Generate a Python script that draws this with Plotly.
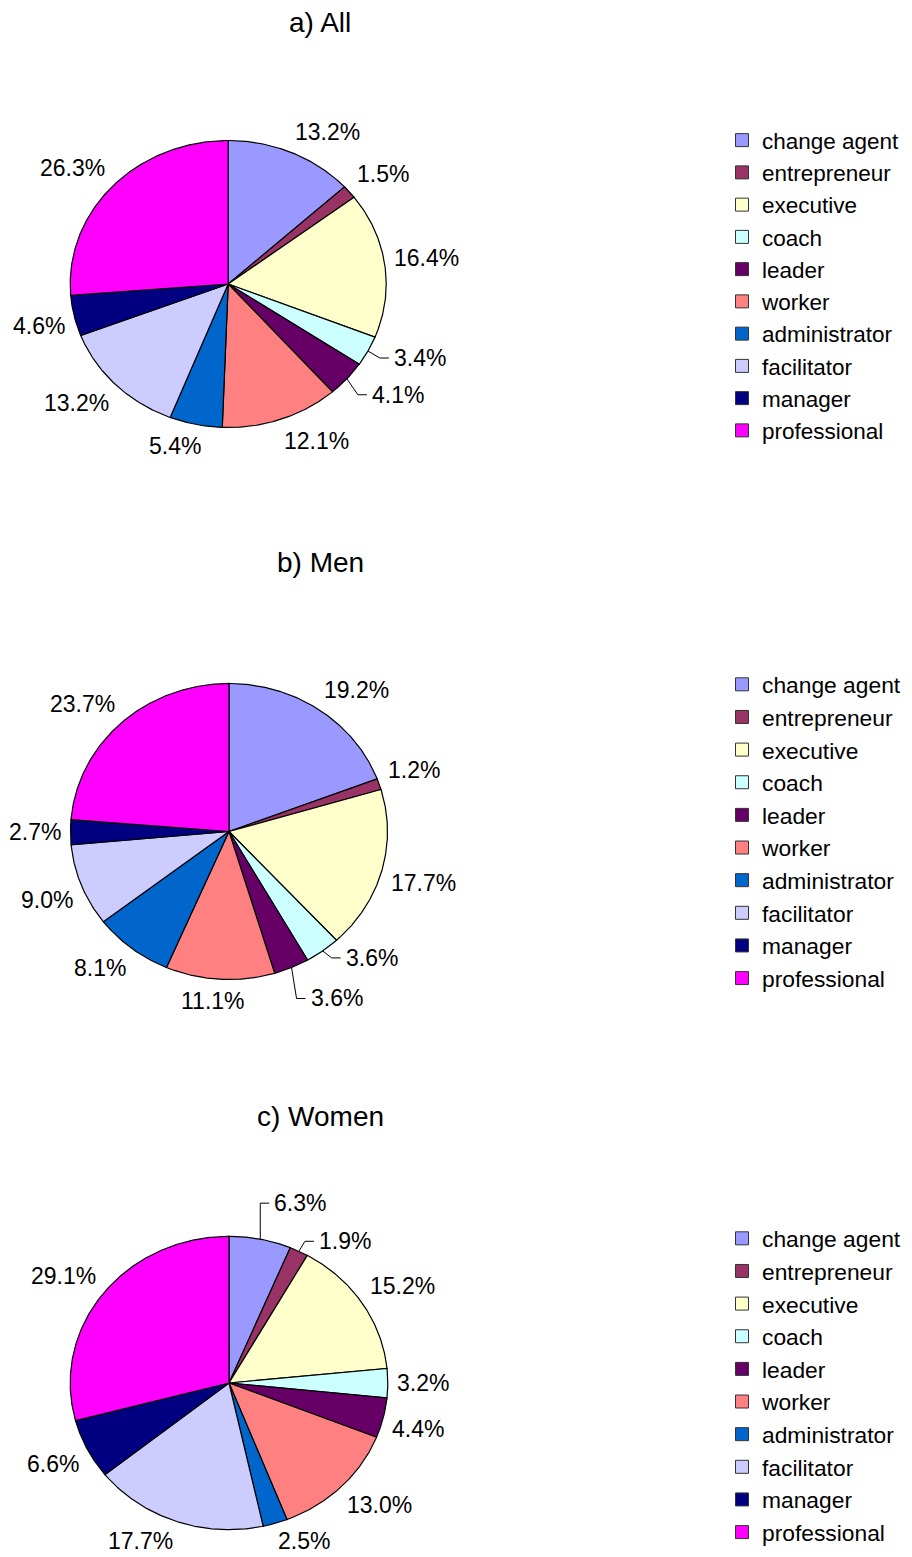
import numpy as np
import plotly.graph_objects as go

# ---- data -------------------------------------------------------------
roles = ["change agent", "entrepreneur", "executive", "coach", "leader",
         "worker", "administrator", "facilitator", "manager", "professional"]
share_all = [13.2, 1.5, 16.4, 3.4, 4.1, 12.1, 5.4, 13.2, 4.6, 26.3]
share_men = [19.2, 1.2, 17.7, 3.6, 3.6, 11.1, 8.1, 9.0, 2.7, 23.7]
share_women = [6.3, 1.9, 15.2, 3.2, 4.4, 13.0, 2.5, 17.7, 6.6, 29.1]
panel_titles = ["a) All", "b) Men", "c) Women"]

# ---- style ------------------------------------------------------------
colors = ["#9999FF", "#993366", "#FFFFCC", "#CCFFFF", "#660066",
          "#FF8080", "#0066CC", "#CCCCFF", "#000080", "#FF00FF"]
FONT = "Liberation Sans, Arial, sans-serif"
W, H = 912, 1557
LABEL_SIZE = 23
# pie centre and radii (page pixels) for each panel, plus title / legend rows
PANELS = [
    dict(cx=228.2, cy=284.0, rx=158.0, ry=143.5, title_y=22, legend_top=142, legend_font=22.5),
    dict(cx=229.0, cy=831.5, rx=158.5, ry=148.0, title_y=562, legend_top=686, legend_font=22.8),
    dict(cx=229.0, cy=1383.0, rx=158.8, ry=146.7, title_y=1116, legend_top=1240, legend_font=22.8),
]
# labels moved off their slice, drawn with an elbow leader: elbow offset (px)
LEADERS = {(0, 3): (12, 7), (0, 4): (11, 16), (1, 3): (9, 7), (1, 4): (5, 31),
           (2, 0): (0, -36), (2, 1): (6, -10)}
GAP_X, GAP_Y = 9, 12   # distance of a label box from the rim
HALF_H = 10            # half height of a label box
SNAP = 3.5             # how quickly a label box swings to the side of its anchor


def text_width(s, size):
    adv = {".": 0.278, "%": 0.889}
    return sum(adv.get(ch, 0.556) for ch in s) * size


fig = go.Figure()
annotations = []
legend_names = ["legend", "legend2", "legend3"]
layout_legends = {}

for p, (vals, title) in enumerate(zip([share_all, share_men, share_women], panel_titles)):
    g = PANELS[p]
    cx, cy, rx, ry = g["cx"], g["cy"], g["rx"], g["ry"]
    v = np.array(vals, dtype=float)
    frac = v / v.sum()
    edges = np.concatenate([[0.0], np.cumsum(frac)]) * 2 * np.pi

    # wedges, clockwise from 12 o'clock
    for i in range(len(v)):
        t = np.linspace(edges[i], edges[i + 1], max(3, int(np.degrees(edges[i + 1] - edges[i]) * 2)))
        xs = np.concatenate([[cx], cx + rx * np.sin(t), [cx]])
        ys = np.concatenate([[cy], cy - ry * np.cos(t), [cy]])
        fig.add_trace(go.Scatter(x=xs, y=ys, mode="lines", fill="toself",
                                 fillcolor=colors[i],
                                 line=dict(color="black", width=1.2),
                                 showlegend=False, hoverinfo="skip"))

    # value labels
    for i in range(len(v)):
        th = 0.5 * (edges[i] + edges[i + 1])
        s, c = np.sin(th), np.cos(th)
        px, py = cx + rx * s, cy - ry * c
        txt = f"{vals[i]:.1f}%"
        w = text_width(txt, LABEL_SIZE)
        if (p, i) in LEADERS:
            ex, ey = LEADERS[(p, i)]
            ex, ey = px + ex, py + ey
            lx = ex + 9
            fig.add_trace(go.Scatter(x=[px, ex, lx], y=[py, ey, ey], mode="lines",
                                     line=dict(color="black", width=1),
                                     showlegend=False, hoverinfo="skip"))
            annotations.append(dict(x=lx + 3, y=ey, xref="x", yref="y", text=txt,
                                    showarrow=False, xanchor="left", yanchor="middle",
                                    font=dict(size=LABEL_SIZE, family=FONT, color="black")))
        else:
            lx = px + GAP_X * s + w / 2 * np.clip(SNAP * s, -1, 1)
            ly = py - GAP_Y * c - HALF_H * np.clip(SNAP * c, -1, 1)
            ly = min(ly, H - 16)
            annotations.append(dict(x=lx, y=ly, xref="x", yref="y", text=txt,
                                    showarrow=False, xanchor="center", yanchor="middle",
                                    font=dict(size=LABEL_SIZE, family=FONT, color="black")))

    # panel title
    annotations.append(dict(x=320, y=g["title_y"], xref="x", yref="y", text=title,
                            showarrow=False, xanchor="center", yanchor="middle",
                            font=dict(size=28, family=FONT, color="black")))

    # legend entries
    lg = legend_names[p]
    for i, r in enumerate(roles):
        fig.add_trace(go.Scatter(x=[None], y=[None], mode="markers", name=r,
                                 marker=dict(symbol="square", size=13, color=colors[i],
                                             line=dict(color="#333333", width=1)),
                                 legend=lg, showlegend=True))
    layout_legends[lg] = dict(x=722 / W, y=1 - (g["legend_top"] - 23) / H,
                              xanchor="left", yanchor="top", xref="paper", yref="paper",
                              font=dict(size=g["legend_font"], family=FONT, color="black"),
                              bgcolor="rgba(0,0,0,0)", borderwidth=0,
                              traceorder="normal", itemwidth=30, tracegroupgap=0)

fig.update_layout(
    width=W, height=H,
    margin=dict(l=0, r=0, t=0, b=0),
    paper_bgcolor="white", plot_bgcolor="white",
    xaxis=dict(range=[0, W], visible=False, fixedrange=True),
    yaxis=dict(range=[H, 0], visible=False, fixedrange=True),
    annotations=annotations,
    showlegend=True,
    **layout_legends,
)

fig.write_html("out.html")
